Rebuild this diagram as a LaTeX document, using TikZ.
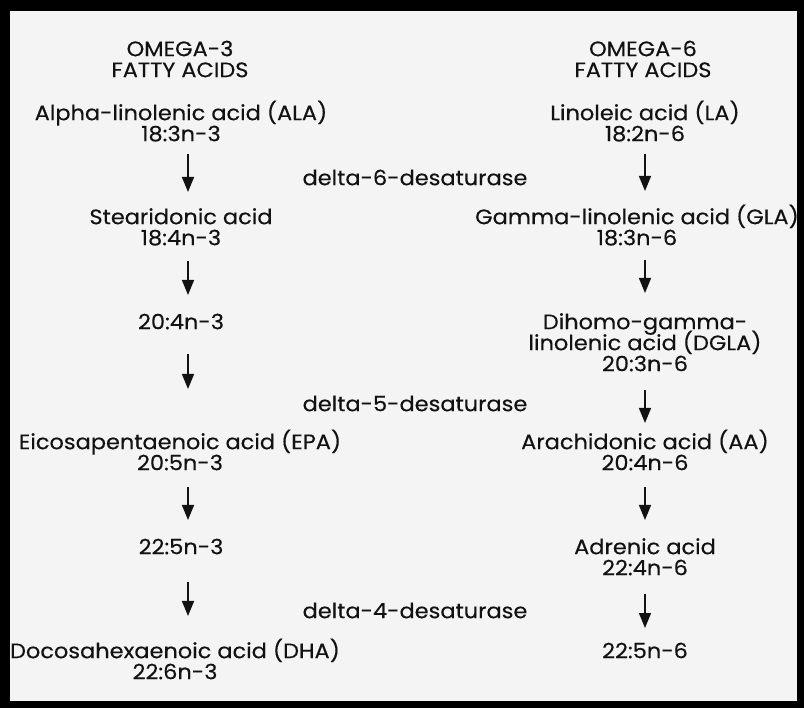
\documentclass[tikz,border=0pt]{standalone}
\usepackage{fontspec}
\setmainfont{Poppins}[FakeStretch=1.07,FakeBold=0.3]
\usetikzlibrary{arrows.meta}
\definecolor{paper}{RGB}{244,244,244}
\definecolor{ink}{RGB}{18,18,18}
\newcommand\labfont{\fontsize{21}{21}\selectfont}
\newcommand\tl[1]{\smash{#1}\rule[-6pt]{0pt}{21pt}}
\tikzset{
  lbl/.style={align=center, inner sep=0pt, font=\labfont, text=ink, anchor=north},
  arr/.style={draw=ink, line width=1.4pt, -{Triangle[length=15pt,width=12pt]}},
}
\begin{document}
\begin{tikzpicture}[x=1pt,y=-1pt]
\fill[paper] (0,0) rectangle (804,708);
\useasboundingbox (0,0) rectangle (804,708);
% left column
\node[lbl] (h3) at (180,41) {\tl{OMEGA-3}\\\tl{FATTY ACIDS}};
\node[lbl] (ala) at (181,105) {\tl{Alpha-linolenic acid (ALA)}\\\tl{18:3n-3}};
\node[lbl] (sda) at (181,209) {\tl{Stearidonic acid}\\\tl{18:4n-3}};
\node[lbl] (e204) at (181,314) {\tl{20:4n-3}};
\node[lbl] (epa) at (180,434) {\tl{Eicosapentaenoic acid (EPA)}\\\tl{20:5n-3}};
\node[lbl] (dpa3) at (181,539) {\tl{22:5n-3}};
\node[lbl] (dha) at (175,643) {\tl{Docosahexaenoic acid (DHA)}\\\tl{22:6n-3}};
% right column
\node[lbl] (h6) at (643,41) {\tl{OMEGA-6}\\\tl{FATTY ACIDS}};
\node[lbl] (la) at (645,105) {\tl{Linoleic acid (LA)}\\\tl{18:2n-6}};
\node[lbl] (gla) at (637,209) {\tl{Gamma-linolenic acid (GLA)}\\\tl{18:3n-6}};
\node[lbl] (dgla) at (645,314) {\tl{Dihomo-gamma-}\\\tl{linolenic acid (DGLA)}\\\tl{20:3n-6}};
\node[lbl] (aa) at (645,434) {\tl{Arachidonic acid (AA)}\\\tl{20:4n-6}};
\node[lbl] (adr) at (645,539) {\tl{Adrenic acid}\\\tl{22:4n-6}};
\node[lbl] (dpa6) at (645,643) {\tl{22:5n-6}};
% enzymes
\node[lbl] (d6) at (415,170) {\tl{delta-6-desaturase}};
\node[lbl] (d5) at (415,396) {\tl{delta-5-desaturase}};
\node[lbl] (d4) at (415,603) {\tl{delta-4-desaturase}};
% arrows left
\draw[arr, shorten <=7pt, shorten >=17pt] ([xshift=7pt]ala.south) -- ([xshift=7pt]sda.north);
\draw[arr, shorten <=10pt, shorten >=19pt] ([xshift=7pt]sda.south) -- ([xshift=7pt]e204.north);
\draw[arr, shorten <=19pt, shorten >=45pt] ([xshift=7pt]e204.south) -- ([xshift=8pt]epa.north);
\draw[arr, shorten <=11pt, shorten >=19pt] ([xshift=8pt]epa.south) -- ([xshift=7pt]dpa3.north);
\draw[arr, shorten <=22pt, shorten >=27pt] ([xshift=7pt]dpa3.south) -- ([xshift=13pt]dha.north);
% arrows right
\draw[arr, shorten <=7pt, shorten >=18pt] (la.south) -- ([xshift=8pt]gla.north);
\draw[arr, shorten <=9pt, shorten >=21pt] ([xshift=8pt]gla.south) -- (dgla.north);
\draw[arr, shorten <=13pt, shorten >=11pt] (dgla.south) -- (aa.north);
\draw[arr, shorten <=11pt, shorten >=19pt] (aa.south) -- (adr.north);
\draw[arr, shorten <=13pt, shorten >=15pt] (adr.south) -- (dpa6.north);
% frame
\fill[black] (0,0) rectangle (804,11);
\fill[black] (0,0) rectangle (10,708);
\fill[black] (797,0) rectangle (804,708);
\fill[black] (0,701) rectangle (804,708);
\end{tikzpicture}
\end{document}
